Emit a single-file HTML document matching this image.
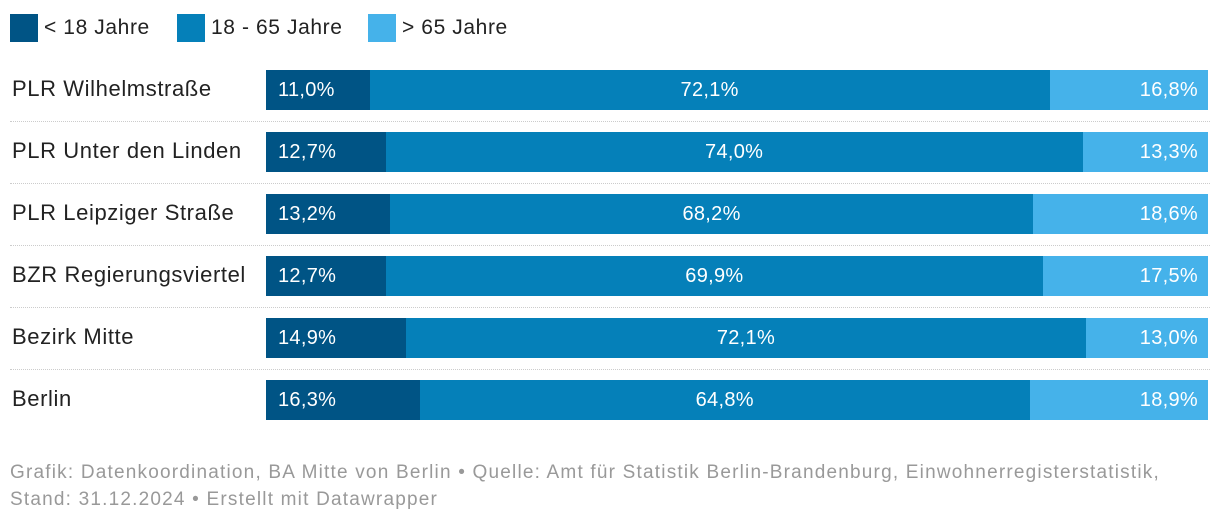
<!DOCTYPE html>
<html><head><meta charset="utf-8"><style>
body{margin:0;width:1220px;height:522px;background:#fff;font-family:"Liberation Sans",sans-serif;position:relative;overflow:hidden}
.leg{position:absolute;top:14px;height:28px;display:flex;align-items:center;font-size:21px;letter-spacing:0.6px;color:#222}
.sw{width:28px;height:28px;margin-right:6px}
.lab{position:absolute;left:12px;font-size:22px;letter-spacing:0.6px;color:#222}
.sep{position:absolute;left:10px;width:1200px;border-top:1.5px dotted #ccc}
.seg{position:absolute;height:40px;color:#fff;font-size:20px;letter-spacing:0.3px;line-height:40px}
.foot{position:absolute;left:10px;top:459px;font-size:19px;letter-spacing:1.2px;color:#999;line-height:27px;white-space:nowrap}
</style></head><body>
<div class="leg" style="left:10px"><div class="sw" style="background:#005485"></div>&lt; 18 Jahre</div>
<div class="leg" style="left:177px"><div class="sw" style="background:#0580b9"></div>18 - 65 Jahre</div>
<div class="leg" style="left:368px"><div class="sw" style="background:#45b2ea"></div>&gt; 65 Jahre</div>
<div id="chart"></div>
<div class="foot">Grafik: Datenkoordination, BA Mitte von Berlin • Quelle: Amt für Statistik Berlin-Brandenburg, Einwohnerregisterstatistik,<br>Stand: 31.12.2024 • Erstellt mit Datawrapper</div>
<script>
const categories=["PLR Wilhelmstraße","PLR Unter den Linden","PLR Leipziger Straße","BZR Regierungsviertel","Bezirk Mitte","Berlin"];
const under18=[11.0,12.7,13.2,12.7,14.9,16.3];
const age18to65=[72.1,74.0,68.2,69.9,72.1,64.8];
const over65=[16.8,13.3,18.6,17.5,13.0,18.9];
const colors=["#005485","#0580b9","#45b2ea"];
const names=["under-18","18-65","over-65"];
const c=document.getElementById('chart');
const X0=266,W=942,Y0=70,STEP=62;
const fmt=v=>v.toFixed(1).replace('.',',')+'%';
categories.forEach((cat,i)=>{
  const y=Y0+i*STEP;
  const l=document.createElement('div');l.className='lab';l.style.top=(y+6)+'px';l.textContent=cat;
  
  
  c.appendChild(l);
  if(i<categories.length-1){const s=document.createElement('div');s.className='sep';s.style.top=(y+51)+'px';
    
    
    c.appendChild(s);}
  const vals=[under18[i],age18to65[i],over65[i]];
  const tot=vals.reduce((a,b)=>a+b,0);
  let x=X0;
  vals.forEach((v,k)=>{
    const w=v/tot*W;
    const d=document.createElement('div');d.className='seg';
    d.style.left=x+'px';d.style.top=y+'px';d.style.width=w+'px';d.style.background=colors[k];
    d.style.textAlign=k==0?'left':k==1?'center':'right';
    d.style.boxSizing='border-box';d.style.padding=k==0?'0 0 0 12px':k==2?'0 10px 0 0':'0';
    d.textContent=fmt(v);
    
    
    c.appendChild(d);x+=w;
  });
});
</script>
</body></html>
